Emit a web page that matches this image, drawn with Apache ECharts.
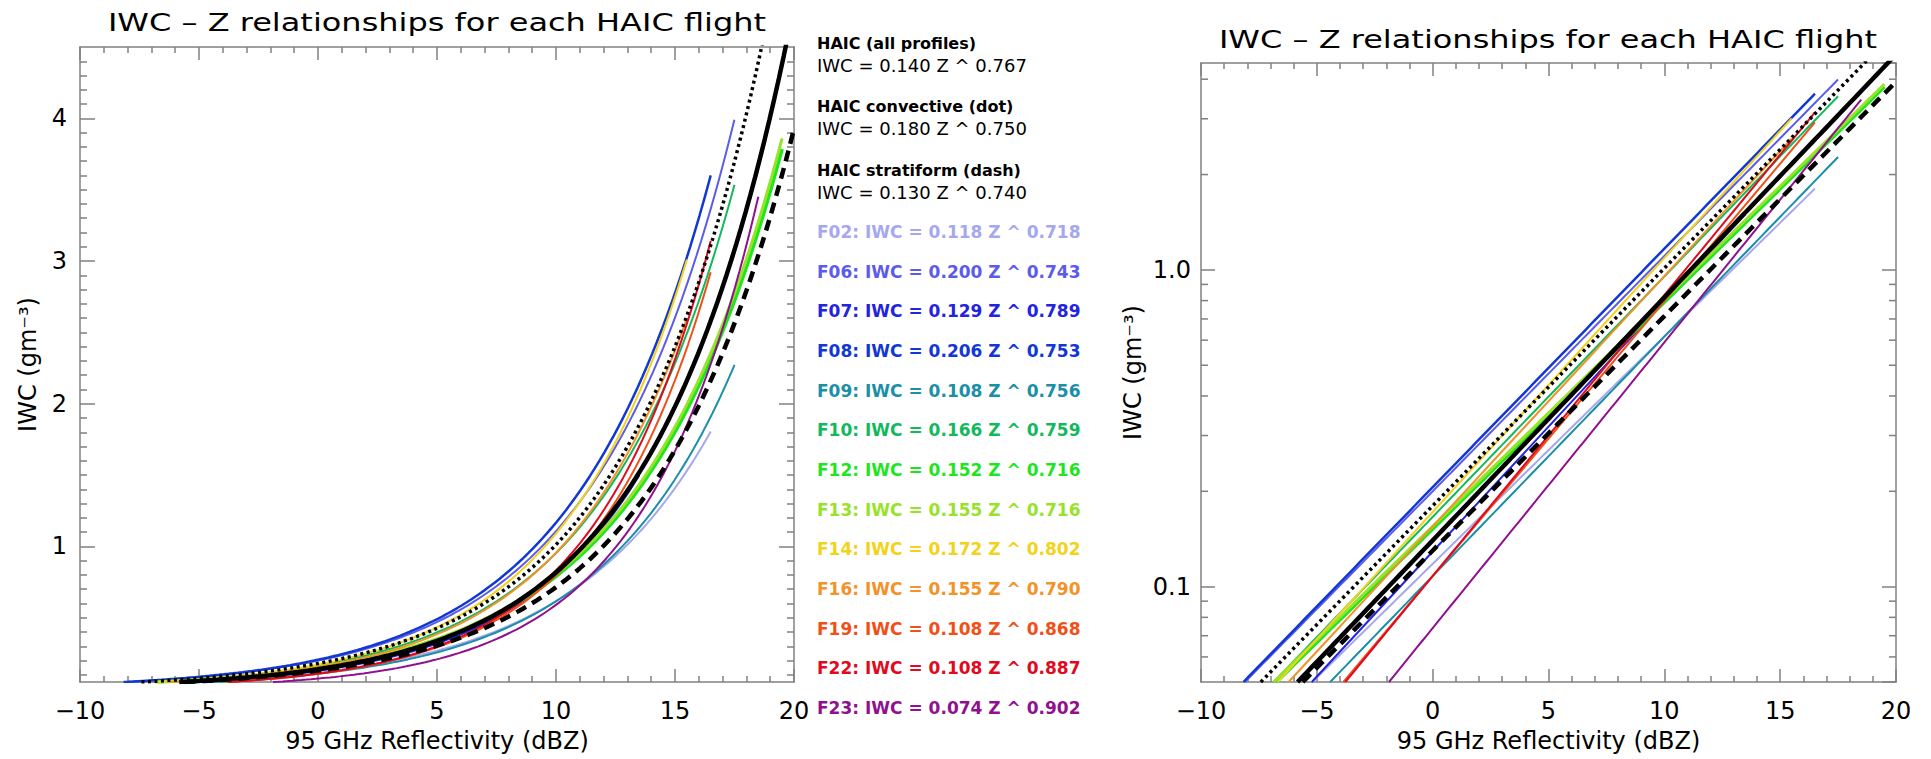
<!DOCTYPE html>
<html>
<head>
<meta charset="utf-8">
<title>IWC - Z relationships for each HAIC flight</title>
<script src="https://cdn.jsdelivr.net/npm/echarts@6/dist/echarts.min.js"></script>
<style>
  html, body { margin: 0; padding: 0; background: #ffffff; }
  #chart { width: 1931px; height: 759px; }
</style>
</head>
<body>
<div id="chart"></div>
<script>
// ---- Fitted IWC = a * Z^b relationships (Z in mm^6 m^-3, reflectivity in dBZ) ----
const flightNames   = ['F02', 'F06', 'F07', 'F08', 'F09', 'F10', 'F12', 'F13', 'F14', 'F16', 'F19', 'F22', 'F23'];
const flightCoefA   = [0.118, 0.200, 0.129, 0.206, 0.108, 0.166, 0.152, 0.155, 0.172, 0.155, 0.108, 0.108, 0.074];
const flightExpB    = [0.718, 0.743, 0.789, 0.753, 0.756, 0.759, 0.716, 0.716, 0.802, 0.790, 0.868, 0.887, 0.902];
// upper end of the reflectivity range covered by each flight's fit (dBZ)
const flightMaxDbz  = [16.5, 17.5, 13.5, 16.5, 17.5, 17.5, 19.5, 19.5, 15.5, 15.5, 16.5, 16.5, 18.5];

const fitNames  = ['HAIC (all profiles)', 'HAIC convective (dot)', 'HAIC stratiform (dash)'];
const fitCoefA  = [0.140, 0.180, 0.130];
const fitExpB   = [0.767, 0.750, 0.740];
const fitMaxDbz = [20, 20, 20];

// ---- Axis ranges and tick values ----
const dbzRange       = [-10, 20];
const iwcRange       = [0.05, 4.5];
const linMajorTicks  = [1, 2, 3, 4];
const linMinorTicks  = [0.1, 0.2, 0.3, 0.4, 0.5, 0.6, 0.7, 0.8, 0.9,
                        1.1, 1.2, 1.3, 1.4, 1.5, 1.6, 1.7, 1.8, 1.9,
                        2.1, 2.2, 2.3, 2.4, 2.5, 2.6, 2.7, 2.8, 2.9,
                        3.1, 3.2, 3.3, 3.4, 3.5, 3.6, 3.7, 3.8, 3.9,
                        4.1, 4.2, 4.3, 4.4];
const logMinorTicks  = [0.06, 0.07, 0.08, 0.09, 0.2, 0.3, 0.4, 0.5, 0.6, 0.7, 0.8, 0.9, 2, 3, 4];

// ---- Styles ----
const flightColors = ['#a6a8ee', '#5c5cea', '#2323e0', '#1238d4', '#1a8fa8', '#12b95c', '#1ee61e',
                      '#98e22a', '#f2d21a', '#f29228', '#f05018', '#e00a20', '#901090'];
const flightWidths = [2, 2, 2, 2.5, 2, 2, 3.5, 3, 2, 2, 2, 2, 2];
const fitStyles = [
  { color: '#000', width: 4.5, type: 'solid' },
  { color: '#000', width: 3.5, type: [3, 3.5] },
  { color: '#000', width: 4.5, type: [11, 7] }
];
const axisGray = '#808080';
const FONT = '"DejaVu Sans", sans-serif';

// sample a power law curve from the bottom of the IWC axis up to its last reflectivity
function powerLawCurve(a, b, dMax) {
  const dStart = Math.max(dbzRange[0], 10 * Math.log10(iwcRange[0] / a) / b);
  const pts = [];
  for (let d = dStart; d < dMax; d += 0.2) {
    pts.push([d, a * Math.pow(10, b * d / 10)]);
  }
  pts.push([dMax, a * Math.pow(10, b * dMax / 10)]);
  return pts;
}

const minusFmt = v => (v < 0 ? '\u2212' + (-v) : String(v));
const lineSt = { color: axisGray, width: 1.5 };

const grids = [
  { left: 80, top: 47, width: 714, height: 635, outerBoundsMode: 'none' },
  { left: 1201, top: 63, width: 695, height: 619, outerBoundsMode: 'none' }
];

function xAxesFor(g) {
  const base = {
    gridIndex: g, type: 'value', min: dbzRange[0], max: dbzRange[1], interval: 5,
    axisLine: { show: true, onZero: false, lineStyle: lineSt },
    axisTick: { show: true, inside: true, length: 13, lineStyle: lineSt },
    minorTick: { show: true, splitNumber: 5, length: 6, lineStyle: lineSt },
    splitLine: { show: false }, minorSplitLine: { show: false }
  };
  return [
    Object.assign({}, base, {
      position: 'bottom',
      axisLabel: { show: true, margin: 17, fontSize: 24, fontFamily: FONT, color: '#000', formatter: minusFmt },
      name: '95 GHz Reflectivity (dBZ)', nameLocation: 'middle', nameGap: 47,
      nameTextStyle: { fontSize: 24, fontFamily: FONT, color: '#000' }
    }),
    Object.assign({}, base, { position: 'top', axisLabel: { show: false } })
  ];
}

const yName = 'IWC (gm\u207B\u00B3)';
const yAxes = [
  // left panel, linear scale
  {
    gridIndex: 0, type: 'value', min: iwcRange[0], max: iwcRange[1], position: 'left',
    axisLine: { show: true, onZero: false, lineStyle: lineSt },
    axisTick: { show: true, inside: true, length: 15, lineStyle: lineSt, customValues: linMajorTicks },
    axisLabel: { show: true, margin: 13, fontSize: 24, fontFamily: FONT, color: '#000', customValues: linMajorTicks },
    splitLine: { show: false },
    name: yName, nameLocation: 'middle', nameGap: 40, nameRotate: 90,
    nameTextStyle: { fontSize: 24, fontFamily: FONT, color: '#000' }
  },
  {
    gridIndex: 0, type: 'value', min: iwcRange[0], max: iwcRange[1], position: 'left',
    axisLine: { show: false, onZero: false },
    axisTick: { show: true, inside: true, length: 7, lineStyle: lineSt, customValues: linMinorTicks },
    axisLabel: { show: false }, splitLine: { show: false }
  },
  {
    gridIndex: 0, type: 'value', min: iwcRange[0], max: iwcRange[1], position: 'right',
    axisLine: { show: true, onZero: false, lineStyle: lineSt },
    axisTick: { show: true, inside: true, length: 15, lineStyle: lineSt, customValues: linMajorTicks },
    axisLabel: { show: false }, splitLine: { show: false }
  },
  {
    gridIndex: 0, type: 'value', min: iwcRange[0], max: iwcRange[1], position: 'right',
    axisLine: { show: false, onZero: false },
    axisTick: { show: true, inside: true, length: 7, lineStyle: lineSt, customValues: linMinorTicks },
    axisLabel: { show: false }, splitLine: { show: false }
  },
  // right panel, logarithmic scale
  {
    gridIndex: 1, type: 'log', logBase: 10, min: iwcRange[0], max: iwcRange[1], position: 'left',
    axisLine: { show: true, onZero: false, lineStyle: lineSt },
    axisTick: { show: true, inside: true, length: 14, lineStyle: lineSt },
    axisLabel: {
      show: true, margin: 10, fontSize: 24, fontFamily: FONT, color: '#000',
      showMinLabel: false, showMaxLabel: false,
      formatter: v => Number(v).toFixed(1)
    },
    minorTick: { show: false }, splitLine: { show: false },
    name: yName, nameLocation: 'middle', nameGap: 56, nameRotate: 90,
    nameTextStyle: { fontSize: 24, fontFamily: FONT, color: '#000' }
  },
  {
    gridIndex: 1, type: 'log', logBase: 10, min: iwcRange[0], max: iwcRange[1], position: 'right',
    axisLine: { show: true, onZero: false, lineStyle: lineSt },
    axisTick: { show: true, inside: true, length: 14, lineStyle: lineSt },
    axisLabel: { show: false }, minorTick: { show: false }, splitLine: { show: false }
  }
];

const series = [];
[0, 1].forEach(p => {
  const xi = p * 2;
  const yi = p === 0 ? 0 : 4;
  flightNames.forEach((name, i) => {
    series.push({
      name: name, type: 'line', xAxisIndex: xi, yAxisIndex: yi,
      showSymbol: false, symbol: 'none', clip: true, z: 2, silent: true,
      lineStyle: { color: flightColors[i], width: flightWidths[i] },
      data: powerLawCurve(flightCoefA[i], flightExpB[i], flightMaxDbz[i])
    });
  });
  fitNames.forEach((name, i) => {
    series.push({
      name: name, type: 'line', xAxisIndex: xi, yAxisIndex: yi,
      showSymbol: false, symbol: 'none', clip: true, z: 3, silent: true,
      lineStyle: { color: fitStyles[i].color, width: fitStyles[i].width, type: fitStyles[i].type, cap: 'butt' },
      data: powerLawCurve(fitCoefA[i], fitExpB[i], fitMaxDbz[i])
    });
  });
});

// minor ticks of the logarithmic axis, placed through the log scale on both frame sides
series.push({
  type: 'custom', xAxisIndex: 2, yAxisIndex: 4, clip: false, silent: true, z: 5,
  encode: { x: 0, y: 1 },
  data: logMinorTicks.map(v => [dbzRange[0], v]),
  renderItem: (params, api) => {
    const v = api.value(1);
    const l = api.coord([dbzRange[0], v]);
    const r = api.coord([dbzRange[1], v]);
    const st = { stroke: axisGray, lineWidth: 1.5 };
    return {
      type: 'group',
      children: [
        { type: 'line', shape: { x1: l[0], y1: l[1], x2: l[0] + 7, y2: l[1] }, style: st },
        { type: 'line', shape: { x1: r[0] - 7, y1: r[1], x2: r[0], y2: r[1] }, style: st }
      ]
    };
  }
});

// titles and the equation list between the panels
const titleText = 'IWC \u2013 Z relationships for each HAIC flight';
const titleFont = 'normal 25px ' + FONT;
const graphics = [
  { type: 'text', x: 437, y: 22, scaleX: 1.28, silent: true,
    style: { text: titleText, fill: '#000', font: titleFont,
             textAlign: 'center', textVerticalAlign: 'middle', align: 'center', verticalAlign: 'middle' } },
  { type: 'text', x: 1548, y: 39, scaleX: 1.28, silent: true,
    style: { text: titleText, fill: '#000', font: titleFont,
             textAlign: 'center', textVerticalAlign: 'middle', align: 'center', verticalAlign: 'middle' } }
];
const eq = (a, b) => 'IWC = ' + a.toFixed(3) + ' Z ^ ' + b.toFixed(3);
const listX = 817;
const fitRowsY = [43, 106, 170];
fitNames.forEach((name, i) => {
  graphics.push({ type: 'text', x: listX, y: fitRowsY[i], silent: true,
    style: { text: name, fill: '#000', font: 'bold 16px ' + FONT,
             textAlign: 'left', textVerticalAlign: 'middle', align: 'left', verticalAlign: 'middle' } });
  graphics.push({ type: 'text', x: listX, y: fitRowsY[i] + 22, silent: true,
    style: { text: eq(fitCoefA[i], fitExpB[i]), fill: '#000', font: 'normal 18px ' + FONT,
             textAlign: 'left', textVerticalAlign: 'middle', align: 'left', verticalAlign: 'middle' } });
});
flightNames.forEach((name, i) => {
  graphics.push({ type: 'text', x: listX, y: 232 + i * 39.67, silent: true,
    style: { text: name + ': ' + eq(flightCoefA[i], flightExpB[i]), fill: flightColors[i],
             font: 'bold 17px ' + FONT,
             textAlign: 'left', textVerticalAlign: 'middle', align: 'left', verticalAlign: 'middle' } });
});

const chart = echarts.init(document.getElementById('chart'), null, { renderer: 'svg' });
chart.setOption({
  animation: false,
  backgroundColor: '#ffffff',
  textStyle: { fontFamily: FONT },
  grid: grids,
  xAxis: xAxesFor(0).concat(xAxesFor(1)),
  yAxis: yAxes,
  series: series,
  graphic: graphics
});
</script>
</body>
</html>
